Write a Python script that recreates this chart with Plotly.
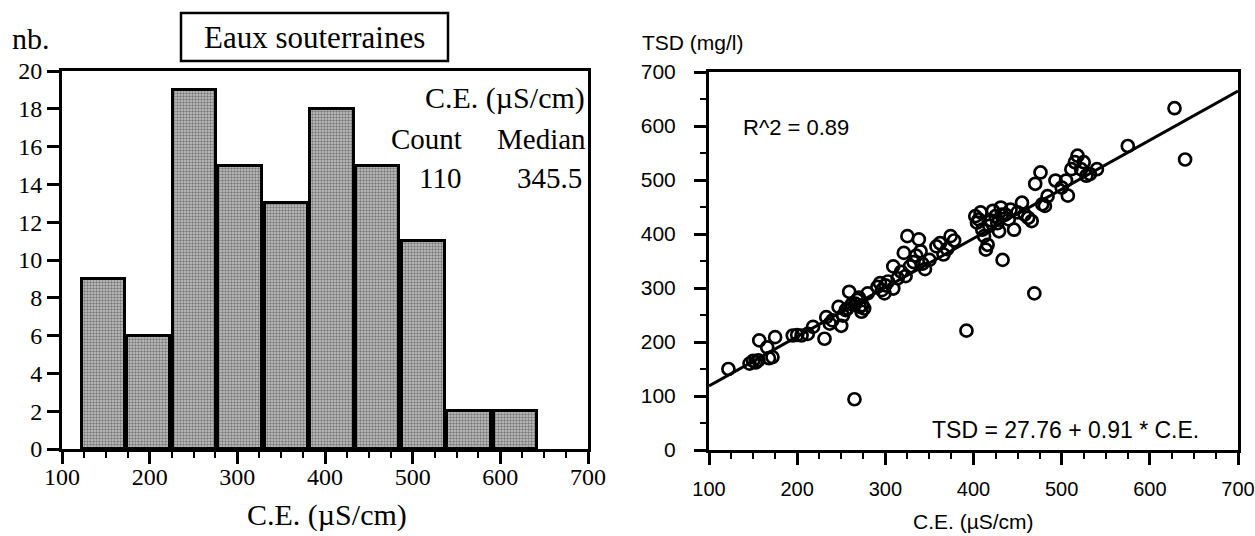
import plotly.graph_objects as go

# ---------------- data ----------------
bin_edges = [121, 173, 225, 277, 330, 382, 434, 486, 538, 591, 643]
bin_counts = [9, 6, 19, 15, 13, 18, 15, 11, 2, 2]
hist_count = 110
hist_median = 345.5

ce = [122, 146, 150, 153, 156, 157, 166, 168, 172,
      175, 195, 200, 205, 212, 218,
      231, 233, 237, 240, 247, 250, 252, 255, 257, 259, 262, 265, 266, 268, 270, 271, 273, 274, 276,
      280, 291, 294, 296, 299, 300, 303, 309, 309, 314, 318, 321, 323, 325, 328,
      332, 335, 338, 340, 342, 345, 350, 358, 362, 366, 370, 374, 378,
      392, 402, 404, 406, 408, 410, 412, 414, 416, 418, 420, 422, 425, 427, 429, 431, 432, 433,
      436, 440, 442, 446, 450, 455, 458, 462, 466, 469, 470, 476, 478, 481, 484,
      493, 500, 505, 507, 511, 515, 518, 522, 525, 528, 532,
      540, 575,
      628, 640]
tsd = [150, 160, 165, 162, 166, 203, 190, 170, 172,
       209, 212, 213, 212, 215, 228,
       206, 246, 234, 240, 265, 230, 249, 259, 262, 293, 270, 94, 271, 278, 282, 265, 256, 268, 262,
       290, 302, 309, 296, 290, 305, 312, 299, 340, 318, 330, 365, 322, 396, 340,
       348, 360, 390, 368, 345, 335, 352, 377, 383, 362, 372, 396, 388,
       221, 433, 421, 427, 440, 408, 396, 371, 380, 415, 425, 443, 433, 420, 405, 449, 436, 352,
       436, 427, 445, 408, 440, 458, 436, 430, 424, 290, 493, 514, 455, 452, 470,
       499, 486, 499, 471, 520, 533, 545, 520, 533, 508, 511,
       520, 563,
       633, 538]
fit_intercept = 27.76
fit_slope = 0.91
r_squared = 0.89
x_range = [100, 700]
y_hist_range = [0, 20]
y_tsd_range = [0, 700]

W, H = 1255, 536
def px(x):
    return x / W
def py(y):
    return 1 - y / H

centers = [(a + b) / 2 for a, b in zip(bin_edges[:-1], bin_edges[1:])]
widths = [(b - a) * 0.95 for a, b in zip(bin_edges[:-1], bin_edges[1:])]
fit_x = x_range
fit_y = [fit_intercept + fit_slope * v for v in fit_x]

SERIF = "Liberation Serif, Times New Roman, serif"
SANS = "Liberation Sans, Arial, Helvetica, sans-serif"

fig = go.Figure()
fig.add_trace(go.Bar(
    x=centers, y=bin_counts, width=widths,
    marker=dict(color="#9c9c9c",
                pattern=dict(shape=".", fgcolor="#2e2e2e", bgcolor="#c6c6c6", size=3, solidity=0.5),
                line=dict(color="black", width=3)),
    xaxis="x", yaxis="y", showlegend=False, hoverinfo="skip"))
fig.add_trace(go.Scatter(
    x=fit_x, y=fit_y, mode="lines", line=dict(color="black", width=3),
    xaxis="x2", yaxis="y2", showlegend=False, hoverinfo="skip"))
fig.add_trace(go.Scatter(
    x=ce, y=tsd, mode="markers",
    marker=dict(symbol="circle-open", size=12, color="black", line=dict(width=2.7, color="black")),
    xaxis="x2", yaxis="y2", showlegend=False))

axis_common = dict(showgrid=False, zeroline=False, showline=True, linecolor="black", linewidth=3,
                   mirror=True, ticks="outside", ticklen=12, tickwidth=2.5, tickcolor="black",
                   automargin=False, ticklabeloverflow="allow")

fig.update_layout(
    width=W, height=H, margin=dict(l=0, r=0, t=0, b=0, pad=0, autoexpand=False),
    autosize=False,
    paper_bgcolor="white", plot_bgcolor="white",
    bargap=0,
    xaxis=dict(domain=[px(62), px(588)], range=x_range, dtick=100, anchor="y",
               minor=dict(dtick=25, ticks="outside", ticklen=6, tickwidth=2, tickcolor="black"),
               tickfont=dict(family=SERIF, size=24, color="black"), ticklabelstandoff=-8, **axis_common),
    yaxis=dict(domain=[py(449), py(71)], range=y_hist_range, dtick=2, anchor="x",
               tickfont=dict(family=SERIF, size=24, color="black"), ticklabelstandoff=0, **axis_common),
    xaxis2=dict(domain=[px(709), px(1238)], range=x_range, dtick=100, anchor="y2",
                minor=dict(dtick=25, ticks="outside", ticklen=6, tickwidth=2, tickcolor="black"),
                tickfont=dict(family=SANS, size=20, color="black"), ticklabelstandoff=7, **axis_common),
    yaxis2=dict(domain=[py(450), py(72)], range=y_tsd_range, dtick=100, anchor="x2",
                minor=dict(dtick=50, ticks="outside", ticklen=6, tickwidth=2, tickcolor="black"),
                tickfont=dict(family=SANS, size=21, color="black"), ticklabelstandoff=14, **axis_common),
)

ann = []
def A(text, x, y, size, family, xanchor="center", yanchor="middle"):
    ann.append(dict(text=text, x=px(x), y=py(y), xref="paper", yref="paper", showarrow=False,
                    xanchor=xanchor, yanchor=yanchor, font=dict(family=family, size=size, color="black")))

A("nb.", 10, 38, 30, SERIF, xanchor="left")
A("Eaux souterraines", 314, 37, 31, SERIF)
A("C.E. (µS/cm)", 327, 515, 30, SERIF)
A("C.E. (µS/cm)", 587, 98, 30, SERIF, xanchor="right")
A("Count", 464, 139, 29, SERIF, xanchor="right")
A("Median", 588, 139, 29, SERIF, xanchor="right")
A(str(hist_count), 463, 178, 29, SERIF, xanchor="right")
A(str(hist_median), 584, 178, 29, SERIF, xanchor="right")
A("TSD (mg/l)", 640, 43, 21, SANS, xanchor="left")
A("C.E. (µS/cm)", 973, 521, 21, SANS)
A(f"R^2 = {r_squared:.2f}", 741, 127, 22, SANS, xanchor="left")
A(f"TSD = {fit_intercept:.2f} + {fit_slope:.2f} * C.E.", 1201, 430, 23, SANS, xanchor="right")
fig.update_layout(annotations=ann)

fig.add_shape(type="rect", xref="paper", yref="paper",
              x0=px(181), x1=px(448), y0=py(61), y1=py(13),
              line=dict(color="black", width=2.5), fillcolor="rgba(0,0,0,0)")

fig.write_html("out.html")
